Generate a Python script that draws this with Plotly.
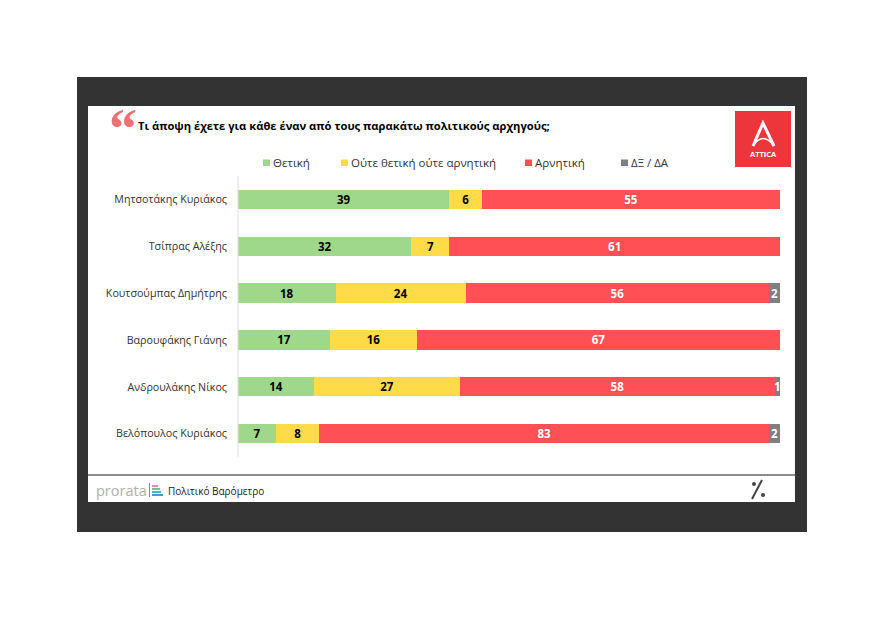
import plotly.graph_objects as go

# Data
leaders = ["Μητσοτάκης Κυριάκος", "Τσίπρας Αλέξης", "Κουτσούμπας Δημήτρης",
           "Βαρουφάκης Γιάνης", "Ανδρουλάκης Νίκος", "Βελόπουλος Κυριάκος"]
positive = [39, 32, 18, 17, 14, 7]
neutral = [6, 7, 24, 16, 27, 8]
negative = [55, 61, 56, 67, 58, 83]
no_answer = [0, 0, 2, 0, 1, 2]

W, H = 880, 623
LEFT, RIGHT, TOP, BOTTOM = 238, 780, 176, 457
FONT = "Open Sans"


def px(x):
    return (x - LEFT) / (RIGHT - LEFT)


def py(y):
    return (BOTTOM - y) / (BOTTOM - TOP)


def rect(x0, y0, x1, y1, color):
    return dict(type="rect", xref="paper", yref="paper", layer="below",
                x0=px(x0), x1=px(x1), y0=py(y0), y1=py(y1),
                fillcolor=color, line=dict(width=0))


def line(x0, y0, x1, y1, color, width):
    return dict(type="line", xref="paper", yref="paper", x0=px(x0), x1=px(x1),
                y0=py(y0), y1=py(y1), line=dict(color=color, width=width))


def text(x, y, s, size, color, anchor="left", **kw):
    return dict(xref="paper", yref="paper", x=px(x), y=py(y), text=s, showarrow=False,
                xanchor=anchor, yanchor="middle",
                font=dict(size=size, color=color, family=kw.pop("family", FONT)), **kw)


fig = go.Figure()

# Stacked bars
series = [("Θετική", positive, "#9FD88A", "#000000"),
          ("Ούτε θετική ούτε αρνητική", neutral, "#FFDB4A", "#000000"),
          ("Αρνητική", negative, "#FF5055", "#FFFFFF"),
          ("ΔΞ / ΔΑ", no_answer, "#808080", "#FFFFFF")]
for name, values, color, font_color in series:
    fig.add_trace(go.Bar(
        x=values,
        y=leaders,
        name=name,
        orientation="h",
        marker=dict(color=color, line=dict(width=0)),
        text=[str(v) if v else "" for v in values],
        textposition="inside",
        insidetextanchor="middle",
        textangle=0,
        constraintext="none",
        textfont=dict(size=11.5, color=font_color, family=FONT, weight="bold"),
    ))

shapes = [
    rect(77, 77, 807, 532, "#333333"),
    rect(88, 106, 795, 502, "#FFFFFF"),
    line(88, 475, 795, 475, "#666666", 1.5),
    line(238, TOP, 238, BOTTOM, "#DDDDDD", 1),
    # Attica logo
    rect(735, 111, 791, 167, "#EC363C"),
    dict(type="path", xref="paper", yref="paper", line=dict(color="#FFFFFF", width=3),
         path=f"M {px(753)} {py(146)} L {px(763)} {py(123)} L {px(774)} {py(146)}"),
    dict(type="path", xref="paper", yref="paper", line=dict(color="#FFFFFF", width=1.5),
         path=f"M {px(753)} {py(146)} Q {px(763)} {py(131)} {px(774)} {py(146)}"),
    # prorata mark
    line(149.5, 483, 149.5, 497, "#888888", 1),
    rect(152, 485, 158, 487, "#F07BD8"),
    rect(152, 488, 160, 490, "#5CC8A0"),
    rect(152, 491, 161, 493, "#45B8C8"),
    rect(152, 494, 163, 496, "#3F9BD8"),
    # percent mark
    line(762, 480, 752, 499, "#444444", 2),
    dict(type="circle", xref="paper", yref="paper", x0=px(752), x1=px(756), y0=py(486), y1=py(482),
         fillcolor="#444444", line=dict(width=0)),
    dict(type="circle", xref="paper", yref="paper", x0=px(761), x1=px(765), y0=py(497), y1=py(493),
         fillcolor="#444444", line=dict(width=0)),
]

annotations = [
    text(107, 129, "<b>“</b>", 56, "#F07073", family="Liberation Serif"),
    text(136, 125, "<b>Τι άποψη έχετε για κάθε έναν από τους παρακάτω πολιτικούς αρχηγούς;</b>", 11.2, "#000000"),
    text(763, 154, "<b>ATTICA</b>", 7.5, "#FFFFFF", anchor="center"),
    text(94, 490, "prorata", 14.5, "#B0B0B0"),
    text(166, 491, "Πολιτικό Βαρόμετρο", 10, "#222222"),
]

# Legend row drawn by hand so swatches sit where the reference has them
legend_x = [263, 341, 525, 621]
for (name, _, color, _), x in zip(series, legend_x):
    shapes.append(rect(x, 159.5, x + 7, 166, color))
    annotations.append(text(x + 8, 162.5, name, 11.5, "#333333"))

fig.update_layout(
    width=W,
    height=H,
    margin=dict(l=LEFT, r=W - RIGHT, t=TOP, b=H - BOTTOM, pad=0),
    paper_bgcolor="white",
    plot_bgcolor="rgba(0,0,0,0)",
    barmode="stack",
    bargap=0.59,
    font=dict(family=FONT, color="#333333"),
    showlegend=False,
    xaxis=dict(range=[0, 100], visible=False, fixedrange=True),
    yaxis=dict(autorange="reversed", showgrid=False, showline=False, ticks="",
               ticklabelstandoff=10, tickfont=dict(size=10.7, color="#333333", family=FONT)),
    shapes=shapes,
    annotations=annotations,
)

fig.write_html("out.html", config=dict(displayModeBar=False),
               post_script="document.body.style.margin='0';document.body.style.overflow='hidden';")
